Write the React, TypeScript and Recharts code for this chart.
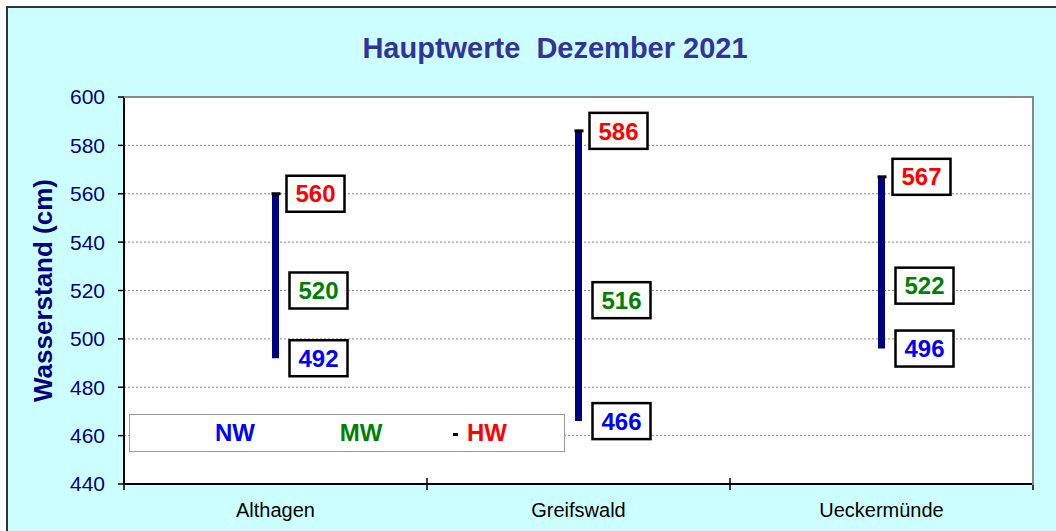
import React from 'react';
import { ComposedChart, Bar, Line, XAxis, YAxis, CartesianGrid } from 'recharts';

// Hauptwerte (Wasserstand in cm), Dezember 2021
const STATIONS = ['Althagen', 'Greifswald', 'Ueckermünde'];
const NW = [492, 466, 496];
const MW = [520, 516, 522];
const HW = [560, 586, 567];
const Y_TICKS = [440, 460, 480, 500, 520, 540, 560, 580, 600];
const TITLE = 'Hauptwerte  Dezember 2021';
const Y_LABEL = 'Wasserstand (cm)';
const LEGEND = [
  { key: 'NW', color: '#0000ff' },
  { key: 'MW', color: '#008000' },
  { key: 'HW', color: '#ff0000' },
];

const data = STATIONS.map((name, i) => ({
  name,
  nw: NW[i],
  mw: MW[i],
  hw: HW[i],
  range: [NW[i], HW[i]],
}));

const W = 1056;
const H = 531;
const MARGIN = { top: 97, right: 23, left: 0, bottom: 0 };
const Y_AXIS_W = 124;
const X_AXIS_H = 47;
const PLOT_W = W - MARGIN.right - Y_AXIS_W;
const PLOT_H = H - MARGIN.top - X_AXIS_H;
const FONT = '"Liberation Sans", Arial, sans-serif';

const boxLabel = (color: string, dx: number) => (props: any) => {
  const { x, y, value } = props;
  if (x == null || y == null) return null;
  return (
    <g>
      <rect x={x + dx} y={y - 18} width={58} height={36} fill="#fff" stroke="#000" strokeWidth={2.5} />
      <text
        x={x + dx + 29}
        y={y}
        dy="0.36em"
        textAnchor="middle"
        fill={color}
        fontSize={24}
        fontWeight="bold"
        fontFamily={FONT}
      >
        {value}
      </text>
    </g>
  );
};

const HwDot = (props: any) => {
  const { cx, cy } = props;
  if (cx == null || cy == null) return null;
  return <rect x={cx - 4} y={cy - 1.5} width={9} height={3} fill="#000" />;
};

const XTick = (props: any) => {
  const { x, y, payload, index } = props;
  const half = PLOT_W / STATIONS.length / 2;
  return (
    <g>
      <line x1={x - half} x2={x - half} y1={y - 6} y2={y + 6} stroke="#000" strokeWidth={1.5} />
      {index === STATIONS.length - 1 && (
        <line x1={x + half} x2={x + half} y1={y - 6} y2={y + 6} stroke="#000" strokeWidth={1.5} />
      )}
      <text x={x} y={y + 33} textAnchor="middle" fontSize={20} fill="#000" fontFamily={FONT}>
        {payload.value}
      </text>
    </g>
  );
};

const YLabel = (props: any) => {
  const vb = props.viewBox || { x: 0, y: MARGIN.top, width: Y_AXIS_W, height: PLOT_H };
  const cx = vb.x + 43;
  const cy = vb.y + vb.height / 2;
  return (
    <text
      x={cx}
      y={cy}
      transform={`rotate(-90 ${cx} ${cy})`}
      textAnchor="middle"
      dy="0.36em"
      fill="#000080"
      fontSize={26}
      fontWeight="bold"
      fontFamily={FONT}
    >
      {Y_LABEL}
    </text>
  );
};

export default function App() {
  return (
    <div style={{ position: 'fixed', left: 0, top: 0, width: W, height: H, overflow: 'hidden', background: '#fff', fontFamily: FONT }}>
      <div
        style={{
          position: 'absolute',
          left: 6,
          top: 6,
          width: W + 40,
          height: H + 40,
          background: '#ccffff',
          border: '2px solid #333',
        }}
      />
      <div style={{ position: 'absolute', left: 0, top: 0 }}>
        <ComposedChart width={W} height={H} data={data} margin={MARGIN}>
          <CartesianGrid vertical={false} stroke="#888" strokeDasharray="2 2" fill="#fff" />
          <XAxis
            dataKey="name"
            height={X_AXIS_H}
            axisLine={{ stroke: '#000', strokeWidth: 2 }}
            tickLine={false}
            tickSize={0}
            tickMargin={0}
            tick={<XTick />}
            interval={0}
          />
          <YAxis
            type="number"
            domain={[440, 600]}
            ticks={Y_TICKS}
            width={Y_AXIS_W}
            axisLine={{ stroke: '#000', strokeWidth: 2 }}
            tickLine={{ stroke: '#000', strokeWidth: 1.5 }}
            tickSize={6}
            tickMargin={13}
            tick={{ fill: '#000080', fontSize: 21, fontFamily: FONT }}
            allowDataOverflow
            label={<YLabel />}
          />
          <Bar dataKey="range" barSize={7} fill="#000080" isAnimationActive={false} />
          <Line
            dataKey="hw"
            stroke="none"
            dot={<HwDot />}
            activeDot={false}
            label={boxLabel('#ff0000', 11)}
            isAnimationActive={false}
          />
          <Line
            dataKey="mw"
            stroke="none"
            dot={false}
            activeDot={false}
            label={boxLabel('#008000', 14)}
            isAnimationActive={false}
          />
          <Line
            dataKey="nw"
            stroke="none"
            dot={false}
            activeDot={false}
            label={boxLabel('#0000ff', 14)}
            isAnimationActive={false}
          />
        </ComposedChart>
      </div>
      {/* plot area frame, top and right */}
      <div
        style={{
          position: 'absolute',
          left: MARGIN.left + Y_AXIS_W,
          top: MARGIN.top - 1,
          width: PLOT_W - 1,
          height: PLOT_H,
          borderTop: '2px solid #888',
          borderRight: '2px solid #888',
          pointerEvents: 'none',
        }}
      />
      <div
        style={{
          position: 'absolute',
          left: 0,
          width: 1110,
          top: 30,
          textAlign: 'center',
          color: '#333399',
          fontSize: 29,
          fontWeight: 'bold',
          whiteSpace: 'pre',
          lineHeight: '36px',
        }}
      >
        {TITLE}
      </div>
      <div
        style={{
          position: 'absolute',
          left: 129,
          top: 414,
          width: 436,
          height: 38,
          boxSizing: 'border-box',
          background: '#fff',
          border: '1.5px solid #999',
          display: 'flex',
          alignItems: 'center',
          paddingLeft: 42,
        }}
      >
        {LEGEND.map((it) => (
          <span key={it.key} style={{ width: 126, textAlign: 'center', fontSize: 24, fontWeight: 'bold', color: it.color }}>
            <span style={{ position: 'relative' }}>
              {it.key === 'HW' && (
                <span style={{ position: 'absolute', left: -14, top: '50%', width: 5, height: 3, background: '#000' }} />
              )}
              {it.key}
            </span>
          </span>
        ))}
      </div>
    </div>
  );
}
